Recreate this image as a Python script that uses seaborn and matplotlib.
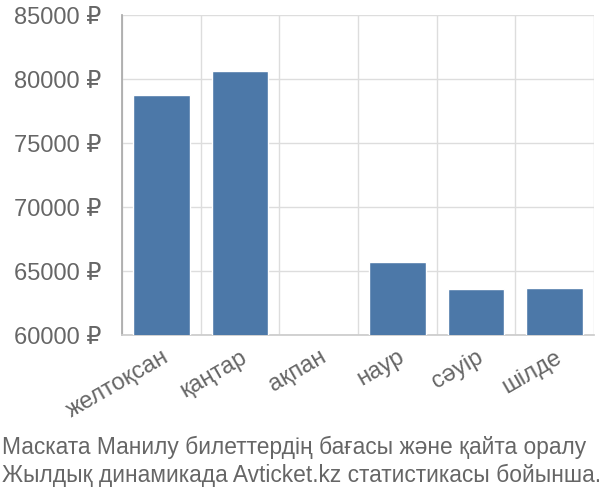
import numpy as np
import pandas as pd
import seaborn as sns
import matplotlib.pyplot as plt
from matplotlib.ticker import FuncFormatter, FixedLocator

# --- datos ---
MESES = ["желтоқсан", "қаңтар", "ақпан", "наур", "сәуір", "шілде"]
PRECIOS = [78750, 80650, np.nan, 65680, 63620, 63700]
Y_TICKS = [60000, 65000, 70000, 75000, 80000, 85000]
CAPTION_1 = "Маската Манилу билеттердің бағасы және қайта оралу"
CAPTION_2 = "Жылдық динамикада Avticket.kz статистикасы бойынша."

BAR_COLOR = "#4c78a8"
TEXT_COLOR = "#666666"
GRID_COLOR = "#dddddd"

sns.set_theme(style="white")
plt.rcParams["font.family"] = ["Liberation Sans", "DejaVu Sans"]

df = pd.DataFrame({"mes": MESES, "precio": PRECIOS})

fig = plt.figure(figsize=(6, 5), dpi=100)
ax = fig.add_axes([0.2033, 0.33, 0.7867, 0.64])

sns.barplot(data=df, x="mes", y="precio", order=MESES, color=BAR_COLOR,
            saturation=1, width=0.72, ax=ax, zorder=3)

ax.set_ylim(Y_TICKS[0], Y_TICKS[-1])
ax.set_xlim(-0.5, len(MESES) - 0.5)
ax.set_yticks(Y_TICKS)
ax.yaxis.set_major_formatter(FuncFormatter(lambda v, p: f"{int(v)} ₽"))

# líneas de cuadrícula en los límites de categoría
bounds = np.arange(len(MESES) + 1) - 0.5
ax.xaxis.set_minor_locator(FixedLocator(bounds))
ax.grid(True, axis="y", which="major", color=GRID_COLOR, linewidth=1, zorder=0)
ax.grid(True, axis="x", which="minor", color=GRID_COLOR, linewidth=1, zorder=0)
ax.grid(False, axis="x", which="major")

ax.tick_params(axis="x", which="major", length=0, pad=8, labelsize=17,
               labelcolor=TEXT_COLOR)
ax.tick_params(axis="x", which="minor", length=13, width=1, color=GRID_COLOR)
ax.tick_params(axis="y", length=14, width=1, color=GRID_COLOR, pad=1,
               labelsize=17, labelcolor=TEXT_COLOR)
for lbl in ax.get_xticklabels():
    lbl.set_rotation(30)
    lbl.set_ha("right")
    lbl.set_rotation_mode("anchor")

for s in ["top", "right"]:
    ax.spines[s].set_visible(False)
ax.spines["left"].set_color("#aaaaaa")
ax.spines["bottom"].set_color("#cccccc")
ax.set_xlabel("")
ax.set_ylabel("")

fig.text(0.003, 0.092, CAPTION_1, fontsize=16.4, color=TEXT_COLOR, va="baseline")
fig.text(0.003, 0.036, CAPTION_2, fontsize=16.4, color=TEXT_COLOR, va="baseline")

fig.savefig("out.png", dpi=100)
plt.close(fig)
